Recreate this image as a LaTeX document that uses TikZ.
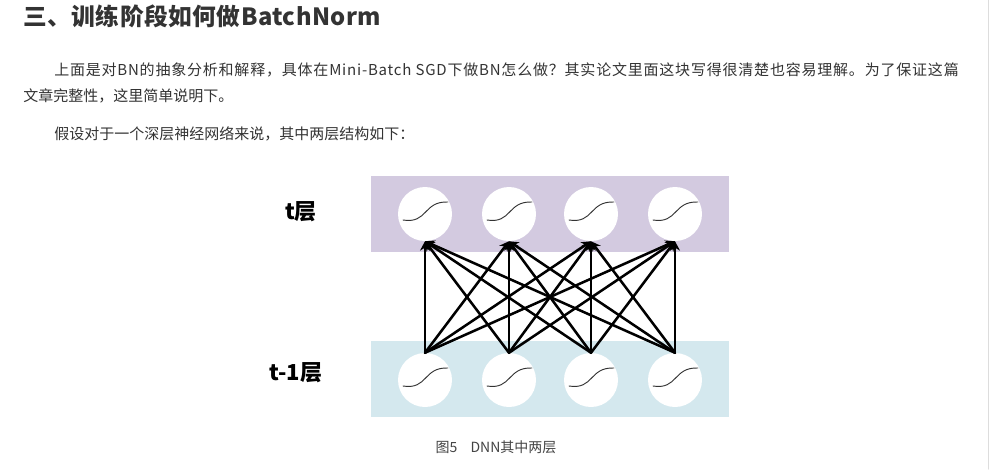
\documentclass[tikz,border=0pt]{standalone}
\usepackage{fontspec}
\setmainfont{Noto Sans CJK SC}
\usetikzlibrary{arrows.meta}
\definecolor{txtgray}{RGB}{51,51,51}
\definecolor{capgray}{RGB}{68,68,68}
\definecolor{layert}{RGB}{211,202,224}
\definecolor{layertm}{RGB}{212,232,238}
\definecolor{edgegray}{RGB}{221,221,221}
\tikzset{
  para/.style={anchor=west, inner sep=0pt, text=txtgray,
    font=\fontsize{11.25pt}{13pt}\selectfont},
  layername/.style={inner sep=0pt, text=black,
    font=\bfseries\fontsize{16.5pt}{18pt}\selectfont},
  neuron/.style={circle, fill=white, minimum size=40.5pt, inner sep=0pt,
    path picture={\draw[line width=0.7pt, black!80]
      ([shift={(-22,6)}]path picture bounding box.center)
      .. controls +(25,4) and +(-25,-1) .. ++(45,-18);}},
  conn/.style={line width=1.9pt, -{Stealth[length=7pt,width=7.5pt]}}
}
\begin{document}
\begin{tikzpicture}[x=0.75pt, y=-0.75pt, line cap=round, line join=round]
  \fill[white] (0,0) rectangle (989,469);
  \useasboundingbox (0,0) rectangle (989,469);
  \draw[edgegray, line width=1.1pt] (988.3,0) -- (988.3,469);
  \node[para, font=\bfseries\fontsize{17.8pt}{20pt}\selectfont\addfontfeatures{LetterSpace=2}] (title) at (23,16)
    {三、训练阶段如何做BatchNorm};
  \node[para, font=\fontsize{11.25pt}{13pt}\selectfont\addfontfeatures{LetterSpace=5.3}] (line1) at (54,70)
    {上面是对BN的抽象分析和解释，具体在Mini-Batch SGD下做BN怎么做？其实论文里面这块写得很清楚也容易理解。为了保证这篇};
  \node[para] (line2) at (23,96) {文章完整性，这里简单说明下。};
  \node[para] (line3) at (54,134) {假设对于一个深层神经网络来说，其中两层结构如下：};
  \fill[layert] (371,176) rectangle (729,252);
  \fill[layertm] (371,341) rectangle (729,417);
  \node[layername] (lt) at (301,212) {t层};
  \node[layername] (ltm) at (296,373) {t-1层};
  \foreach \x [count=\i] in {425,509,591,675} {
    \node[neuron] (t\i) at (\x,214) {};
    \node[neuron] (b\i) at (\x,380) {};
  }
  \foreach \i in {1,...,4}
    \foreach \j in {1,...,4}
      \draw[conn] (b\i.north) -- (t\j.south);
  \node[inner sep=0pt, text=capgray, font=\fontsize{10.5pt}{12pt}\selectfont] (cap)
    at (496,447) {图5\hspace{10pt}DNN其中两层};
\end{tikzpicture}
\end{document}
